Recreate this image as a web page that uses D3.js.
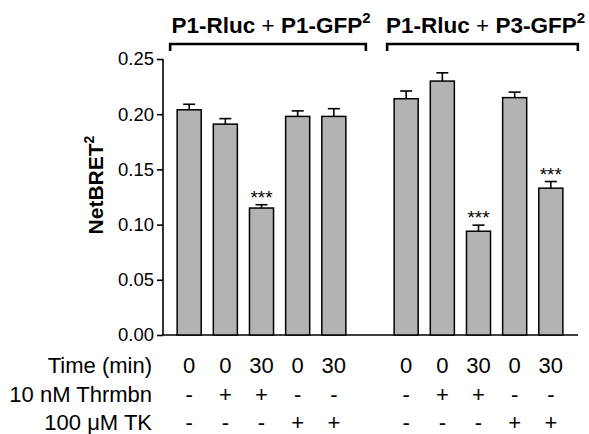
<!DOCTYPE html>
<html>
<head>
<meta charset="utf-8">
<script src="https://cdn.jsdelivr.net/npm/d3@7"></script>
<style>
  body { margin: 0; background: #fff; }
  text { font-family: "Liberation Sans", Arial, sans-serif; fill: #000; }
</style>
</head>
<body>
<div id="grafica"></div>
<script>
// --- datos
const slots = [0, 1, 2, 3, 4, 6, 7, 8, 9, 10];
const values = [0.204, 0.191, 0.115, 0.198, 0.198, 0.214, 0.230, 0.094, 0.215, 0.133];
const errors = [0.005, 0.005, 0.003, 0.005, 0.007, 0.007, 0.0075, 0.0055, 0.005, 0.006];
const signif = ["", "", "***", "", "", "", "", "***", "", "***"];
const timeLabels = ["0", "0", "30", "0", "30", "0", "0", "30", "0", "30"];
const thrombin = ["-", "+", "+", "-", "-", "-", "+", "+", "-", "-"];
const tk = ["-", "-", "-", "+", "+", "-", "-", "-", "+", "+"];
const rowLabels = ["Time (min)", "10 nM Thrmbn", "100 \u03bcM TK"];
const groups = [
  { first: 0, last: 4, a: "P1-Rluc", b: "P1-GFP" },
  { first: 6, last: 10, a: "P1-Rluc", b: "P3-GFP" }
];
const yTicks = [0, 0.05, 0.10, 0.15, 0.20, 0.25];

const width = 589, height = 434;

const x = d3.scaleBand()
  .domain(d3.range(11))
  .range([171, 569])
  .paddingInner(0.335)
  .paddingOuter(0.17);

const y = d3.scaleLinear()
  .domain([0, 0.25])
  .range([335, 59]);

const svg = d3.select("#grafica")
  .append("svg")
  .attr("width", width)
  .attr("height", height);

// eje y
const yAxis = svg.append("g")
  .attr("transform", "translate(163,0)")
  .call(d3.axisLeft(y).tickValues(yTicks).tickFormat(d3.format(".2f")).tickSize(6).tickPadding(3));
yAxis.select(".domain").attr("stroke-width", 1.6).attr("d", "M0," + y(0.25) + "V" + y(0));
yAxis.selectAll(".tick line").attr("stroke-width", 1.6);
yAxis.selectAll(".tick text").style("font-size", "18.5px").style("font-family", "Liberation Sans, Arial, sans-serif");

// eje x
svg.append("line")
  .attr("x1", 163).attr("x2", 578)
  .attr("y1", y(0)).attr("y2", y(0))
  .attr("stroke", "black").attr("stroke-width", 1.6);

// barras
const bars = svg.append("g");
bars.selectAll("rect")
  .data(values)
  .enter()
  .append("rect")
  .attr("x", (d, i) => x(slots[i]))
  .attr("width", x.bandwidth())
  .attr("y", (d) => y(d))
  .attr("height", (d) => y(0) - y(d))
  .attr("fill", "#b3b3b3")
  .attr("stroke", "black")
  .attr("stroke-width", 1.5);

// barras de error
const err = svg.append("g").attr("stroke", "black").attr("stroke-width", 1.6);
values.forEach((v, i) => {
  const cx = x(slots[i]) + x.bandwidth() / 2;
  err.append("line").attr("x1", cx).attr("x2", cx).attr("y1", y(v)).attr("y2", y(v + errors[i]));
  err.append("line").attr("x1", cx - 6).attr("x2", cx + 6).attr("y1", y(v + errors[i])).attr("y2", y(v + errors[i]));
});

svg.append("g")
  .selectAll("text")
  .data(signif)
  .enter()
  .append("text")
  .attr("x", (d, i) => x(slots[i]) + x.bandwidth() / 2)
  .attr("y", (d, i) => y(values[i] + errors[i]) - 1)
  .attr("text-anchor", "middle")
  .style("font-size", "19px")
  .style("fill", "#000")
  .text((d) => d);

// titulo del eje y
svg.append("text")
  .attr("transform", "translate(103,185) rotate(-90)")
  .attr("text-anchor", "middle")
  .style("font-size", "21px")
  .style("font-weight", "bold")
  .call((t) => {
    t.append("tspan").text("NetBRET");
    t.append("tspan").attr("dy", -9).style("font-size", "14px").text("2");
  });

// grupos
groups.forEach((g) => {
  const x0 = x(g.first) - 7;
  const x1 = x(g.last) + x.bandwidth() + (g.first === 0 ? 20 : 15);
  svg.append("path")
    .attr("d", `M${x0},51V44H${x1}V51`)
    .attr("fill", "none")
    .attr("stroke", "black")
    .attr("stroke-width", 2.6);
  const t = svg.append("text")
    .attr("x", (x0 + x1) / 2 + 3)
    .attr("y", 33)
    .attr("text-anchor", "middle")
    .style("font-size", "22.5px");
  t.append("tspan").style("font-weight", "bold").text(g.a);
  t.append("tspan").text(" + ");
  t.append("tspan").style("font-weight", "bold").text(g.b);
  t.append("tspan").attr("dy", -10).style("font-size", "15px").style("font-weight", "bold").text("2");
});

// tabla inferior
const rows = [timeLabels, thrombin, tk];
const rowY = [373, 402, 430];
rows.forEach((row, r) => {
  svg.append("text")
    .attr("x", 152)
    .attr("y", rowY[r])
    .attr("text-anchor", "end")
    .style("font-size", "22px")
    .text(rowLabels[r]);
  svg.append("g")
    .selectAll("text")
    .data(row)
    .enter()
    .append("text")
    .attr("x", (d, i) => x(slots[i]) + x.bandwidth() / 2)
    .attr("y", rowY[r])
    .attr("text-anchor", "middle")
    .style("font-size", "22px")
    .text((d) => d);
});
</script>
</body>
</html>
